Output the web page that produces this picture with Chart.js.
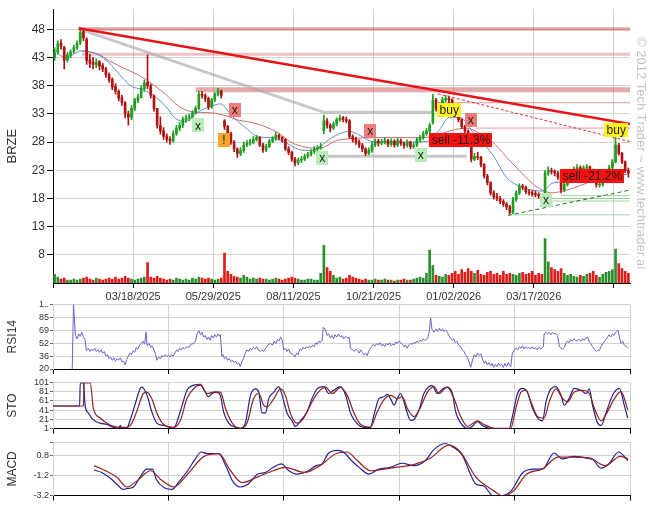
<!DOCTYPE html>
<html>
<head>
<meta charset="utf-8">
<script src="https://cdn.jsdelivr.net/npm/chart.js@4.4.0/dist/chart.umd.min.js"></script>
<style>
  body { margin: 0; background: #fff; width: 657px; height: 514px; overflow: hidden; position: relative; }
  canvas { position: absolute; left: 0; }
</style>
</head>
<body>
<canvas id="main" width="657" height="302" style="top:0px"></canvas>
<canvas id="rsi" width="657" height="78" style="top:298px"></canvas>
<canvas id="sto" width="657" height="60" style="top:376px"></canvas>
<canvas id="macd" width="657" height="68" style="top:436px"></canvas>
<script>
// ---- data (one bar = two sessions) ----
const ticker = 'BRZE';
const dateTicks = [0, 25, 50, 75, 100, 125, 150, 175];
const dateLabels = ['', '03/18/2025', '05/29/2025', '08/11/2025', '10/21/2025', '01/02/2026', '03/17/2026', ''];
const priceTicks = [8, 13, 18, 23, 28, 33, 38, 43, 48];

const opens = [
  43.0,44.0,45.6,44.8,42.6,43.4,44.1,44.8,45.6,47.6, 46.3,42.6,42.2,41.7,42.3,41.6,41.0,40.0,39.1,37.9,
  37.0,35.9,35.0,33.0,32.4,34.0,35.4,36.0,37.5,38.6, 38.0,36.2,34.0,31.0,30.0,29.0,28.5,28.2,29.5,30.5,
  31.0,32.0,32.3,32.5,33.2,34.0,36.5,36.3,35.8,34.3, 35.5,36.5,37.0,31.8,30.8,29.5,28.0,26.8,26.0,26.5,
  27.5,27.8,28.0,28.5,28.8,27.5,26.6,27.2,28.2,28.6, 29.2,28.8,28.5,26.8,26.2,25.0,24.3,24.8,25.0,25.5,
  25.8,26.3,26.8,27.0,30.0,31.8,31.0,30.5,31.2,32.0, 32.3,32.0,31.8,29.0,28.5,28.0,27.5,26.8,26.0,26.5,
  27.5,28.2,27.8,28.0,28.3,27.6,28.2,27.5,28.3,27.8, 27.4,28.0,27.2,27.5,28.4,28.8,29.5,30.0,31.5,35.5,
  34.0,34.5,35.5,35.8,35.5,34.5,33.0,32.0,30.8,30.0, 28.5,25.0,25.5,25.3,24.0,22.0,20.8,19.0,18.3,18.0,
  17.5,17.0,16.5,15.5,17.8,19.0,20.2,20.0,19.2,19.0, 18.8,18.7,18.5,18.5,22.5,23.0,22.8,22.5,21.8,19.5,
  20.5,21.5,22.5,23.2,23.5,23.0,23.4,23.6,23.0,21.5, 20.4,20.5,21.5,22.3,23.5,24.5,27.5,26.0,24.5,23.0
];
const highs = [
  44.8,46.0,46.2,45.0,43.9,44.4,45.2,46.0,48.2,48.0, 46.5,43.6,43.0,42.8,42.5,42.0,41.3,40.3,39.4,38.4,
  37.3,36.3,35.2,33.5,34.5,35.8,36.5,38.0,39.0,43.5, 38.3,36.4,34.0,32.5,30.6,29.5,29.0,30.0,31.0,31.5,
  32.5,32.8,33.0,33.6,34.4,37.0,37.0,36.6,36.0,35.8, 36.8,37.6,37.3,32.0,31.0,29.8,28.3,27.0,27.0,28.0,
  28.3,28.5,29.0,29.2,29.0,27.8,27.6,28.5,29.0,29.8, 29.5,29.0,28.6,27.2,26.4,25.3,25.2,25.5,25.9,26.2,
  26.7,27.2,27.4,27.8,32.8,32.2,31.3,31.6,32.3,32.8, 32.6,32.5,32.0,29.3,28.9,28.4,27.8,27.0,27.0,28.0,
  28.6,28.5,28.5,28.8,28.5,28.6,28.4,28.7,28.6,28.0, 28.4,28.2,27.9,28.8,29.2,29.9,30.4,31.4,36.5,35.8,
  35.0,36.0,36.3,36.2,35.7,34.7,33.3,32.2,31.0,30.2, 28.6,26.0,26.2,25.5,24.2,22.3,21.0,19.4,18.9,18.4,
  17.8,17.3,16.8,18.2,19.4,20.6,20.5,20.2,19.6,19.4, 19.3,19.0,18.8,23.0,23.6,23.4,23.1,22.8,22.0,20.9,
  21.9,22.9,23.6,24.0,23.8,23.8,24.0,23.8,23.2,21.8, 21.0,21.9,22.7,23.9,24.9,28.8,27.8,26.2,24.7,23.4
];
const lows = [
  42.5,43.6,44.5,41.0,42.2,43.0,43.8,44.4,45.3,46.0, 41.8,41.2,41.0,41.2,40.8,40.5,39.5,38.6,37.3,36.5,
  35.3,34.5,32.3,31.0,32.0,33.6,35.0,35.8,37.0,37.5, 35.8,33.5,30.5,29.4,28.5,28.0,27.6,28.0,29.2,30.0,
  30.6,31.5,31.8,32.2,33.0,33.8,35.8,35.2,33.8,34.0, 35.2,36.2,35.8,30.2,29.0,27.6,26.3,25.3,25.6,26.2,
  27.2,27.4,27.7,28.2,27.2,26.2,26.3,27.0,27.9,28.3, 28.4,28.0,26.5,25.8,24.6,23.8,24.0,24.4,24.7,25.2,
  25.5,26.0,26.5,26.7,29.5,30.5,29.8,30.2,30.9,31.7, 31.6,31.4,28.6,28.0,27.6,27.0,26.3,25.6,25.8,26.2,
  27.2,27.3,27.5,27.7,27.2,27.3,27.1,27.2,27.4,26.9, 27.1,26.8,26.9,27.2,28.1,28.5,29.2,29.7,31.2,33.5,
  33.6,34.2,35.2,35.0,34.0,32.6,31.6,30.4,29.6,28.0, 24.5,24.7,24.9,23.6,21.6,20.4,18.6,17.9,17.6,17.1,
  16.6,16.0,15.2,15.3,17.5,18.7,19.5,18.8,18.6,18.4, 18.3,18.0,17.8,18.3,22.1,22.3,22.0,21.4,19.0,19.2,
  20.2,21.2,22.2,22.9,22.7,22.7,23.1,22.7,21.2,20.0, 20.0,20.2,21.2,22.0,23.2,24.3,25.7,24.2,22.6,21.8
];
const closes = [
  44.0,45.5,45.0,42.5,43.5,44.0,44.8,45.5,47.5,46.5, 42.5,42.0,41.8,42.2,41.5,41.0,40.0,39.0,37.8,37.0,
  35.8,35.0,33.0,32.5,34.0,35.5,36.0,37.5,38.5,38.0, 36.3,34.0,31.0,30.0,29.0,28.5,28.2,29.5,30.5,31.0,
  32.0,32.3,32.5,33.2,34.0,36.5,36.3,35.8,34.3,35.5, 36.5,37.0,36.3,30.8,29.5,28.0,26.8,26.0,26.5,27.5,
  27.8,28.0,28.5,28.8,27.5,26.6,27.2,28.2,28.6,29.2, 28.8,28.5,26.8,26.2,25.0,24.3,24.8,25.0,25.5,25.8,
  26.3,26.8,27.0,27.2,31.8,31.0,30.5,31.2,32.0,32.3, 32.0,31.8,29.0,28.5,28.0,27.5,26.8,26.0,26.5,27.5,
  28.2,27.8,28.0,28.3,27.6,28.2,27.5,28.3,27.8,27.4, 28.0,27.2,27.5,28.4,28.8,29.5,30.0,31.0,35.5,34.0,
  34.5,35.5,35.8,35.5,34.5,33.0,32.0,30.8,30.0,28.5, 25.0,25.5,25.3,24.0,22.0,20.8,19.0,18.3,18.0,17.5,
  17.0,16.5,15.5,17.8,19.0,20.2,20.0,19.2,19.0,18.8, 18.7,18.5,18.3,22.5,23.0,22.8,22.5,21.8,19.5,20.5,
  21.5,22.5,23.2,23.5,23.0,23.4,23.6,23.0,21.5,20.5, 20.5,21.5,22.3,23.5,24.5,27.5,26.0,24.5,23.0,22.5
];
// volume, hundred-thousand shares
const volumes = [
  9,6,4,5,3,3,4,3,4,5,6, 4,3,5,4,3,4,5,4,6,4,5,7,5,4,3,4,5,6, 21,
  6,5,7,5,4,3,4,3,5,4,3,4,3,5,4,6,5,4,5,4,3,4,5, 31, 12,9,7,6,5,8,6,
  4,5,4,5,4,4,3,4,5,4,3,4,5,6,5,4,3,3,4,4,3,3,10, 39, 16,12,8,
  5,6,4,5,8,6,5,4,3,4,3,3,4,3,3,4,3,3,2,3,3,4,3,3,4,5,6,5, 10,34,18,
  8,7,6,9,8,10,12,9,14,11,15,12, 10,13,9,8,11,12,9,10,8,12,9,10,
  9,8,10,11,9,10,12,8,10,9, 46,22,16,14,12,15,
  10,8,9,7,6,8,7,9,10,12,8,6,9,11,12,14, 35,20,15,12,10
];

const maFast = [[0,44.7],[3.9,43.0],[8.9,44.2],[14.2,43.5],[17.3,42.2],[21.4,39.6],[24.5,37.9],[27.6,37.4],[30.8,36.5],
  [35.1,34.4],[38.2,32.2],[41.4,31.7],[45.4,33.4],[49.5,34.4],[52.3,34.8],[55.7,32.7],[60.2,30.5],[64.2,28.9],[68.3,28.8],
  [72.6,27.9],[76.7,26.7],[80.7,26.5],[83,27.1],[87,28.8],[92.3,29.9],[96.4,29.0],[99.5,28.1],[108,28.0],[116.4,28.1],
  [120.4,30.1],[123.6,32.4],[126.7,32.4],[132,29.0],[137,25.9],[141.4,21.8],[145.4,20.2],[149.5,19.5],[152.6,19.3],
  [155.7,20.7],[158.8,21.0],[162,21.9],[166.3,22.4],[172.6,22.8],[179.2,22.9]];
const maSlow = [[8.9,44.2],[14.2,43.6],[17.3,42.5],[22.6,41.0],[26.7,39.9],[30.8,38.4],[35.1,36.5],[39.2,34.4],[43.3,33.4],
  [49.5,33.2],[53.9,32.7],[57.9,31.9],[62,31.5],[66.4,30.7],[70.4,29.6],[74.5,27.9],[78.9,27.1],[83,26.9],[89.2,28.4],
  [103.9,28.8],[112,28.8],[118.3,29.0],[124.5,30.1],[128.9,30.5],[133,29.6],[137,28.1],[141.4,25.4],[145.4,23.0],
  [149.5,20.7],[152.6,19.5],[155.7,19.0],[158.8,19.3],[162,19.8],[166.3,20.7],[170.4,21.6],[174.5,22.1],[179.2,22.3]];

// trend lines and levels
const resistLine = [[8,48.2],[180,31.2]];
const resistDashed = [[120,36.6],[180,28.1]];
const grayChannel = [[8,48.1],[84.5,33.3],[118.3,33.3]];
const grayFloor = [[83,25.5],[129,25.5]];
const supportDashed = [[141.9,15.0],[180,19.5]];
const bandLevels = [48.1, 43.6, 37.3];
const bandStart = [8, 9, 44.5];
const thinLevels = [35.0, 30.5];
const thinStart = [120, 132];
const greenLevels = [18.5, 18.0, 17.55, 15.1];
const greenStart = [158.5, 152.6, 155.5, 141.9];

const signals = [
  {i:45.2, p:31.0, text:'x', kind:'ok'},
  {i:53.3, p:28.4, text:'!', kind:'warn'},
  {i:56.7, p:33.75, text:'x', kind:'bad'},
  {i:84, p:25.2, text:'x', kind:'ok'},
  {i:99, p:30.0, text:'x', kind:'bad'},
  {i:114.7, p:25.7, text:'x', kind:'ok'},
  {i:123.6, p:33.75, text:'buy', kind:'buy'},
  {i:130.3, p:32.0, text:'x', kind:'bad'},
  {i:127.3, p:28.4, text:'sell -11.3%', kind:'sell'},
  {i:153.8, p:17.8, text:'x', kind:'ok'},
  {i:168.3, p:22.0, text:'sell -21.2%', kind:'sell'},
  {i:175.7, p:30.15, text:'buy', kind:'buy'}
];

const rsi14 = [[6,20],[6.4,101],[7,62],[7.5,58],[8,64],[8.5,61],[9,66],[9.5,60],[10,57],[10.4,43],[11,46],[11.5,42],[12,45],
  [12.5,43],[13,46],[13.5,42],[14,44],[14.5,41],[15,44],[15.5,40],[16,42],[16.5,36],[17,38],[17.5,33],[18,35],[18.5,31],
  [19,34],[19.5,30],[20,33],[20.5,31],[21,34],[21.5,29],[22,30],[22.5,25],[23,32],[23.5,36],[24,40],[24.5,38],[25,43],
  [25.5,41],[26,47],[26.5,45],[27,50],[27.5,52],[28,55],[28.6,51],[29,66],[29.4,49],[30,52],[30.5,47],[31,49],[31.5,44],
  [32,38],[32.4,31],[33,35],[33.5,33],[34,37],[34.5,35],[35,38],[35.5,36],[36,37],[36.5,35],[37,38],[37.5,36],[38,40],
  [38.6,44],[39,42],[39.5,46],[40,44],[40.5,47],[41,45],[41.8,48],[42.5,47],[43,51],[43.9,52],[44.5,56],[45,65],[45.5,68],
  [46,63],[46.5,66],[47,60],[47.5,62],[48,57],[48.5,60],[49,56],[49.5,62],[50,59],[50.5,63],[51,60],[51.5,64],[52,61],
  [52.2,63],[52.7,36],[53,38],[53.5,33],[54,35],[54.5,31],[55,33],[55.5,29],[56,31],[56.5,28],[57,30],[57.5,26],[58,27],
  [58.4,23],[59,30],[59.5,34],[60,40],[60.5,44],[61,42],[61.5,46],[62,44],[62.5,47],[63,45],[63.6,48],[64,44],[64.7,42],
  [65.2,44],[65.7,42],[66.5,47],[67,50],[67.8,52],[68.5,50],[69,55],[69.5,52],[70,57],[70.5,55],[71,60],[71.5,56],[72,44],
  [72.5,46],[73,42],[73.5,45],[74,40],[75,38],[75.5,35],[76,40],[76.5,38],[77,45],[77.5,43],[78,47],[78.5,45],[79,48],
  [79.5,46],[80,49],[80.5,47],[81,50],[81.5,48],[82,53],[82.4,51],[83,55],[83.4,53],[84,56],[84.3,72],[85,70],[85.5,62],
  [86,64],[86.5,59],[87,62],[87.5,58],[88,63],[88.5,60],[89,64],[89.7,60],[90.2,62],[90.7,58],[91.3,61],[91.8,59],[92.4,60],
  [92.8,46],[93.5,44],[94,42],[94.5,45],[95,43],[95.5,40],[96,44],[96.5,41],[97,38],[97.5,40],[98,37],[98.5,42],[99,46],
  [99.5,48],[100,51],[100.5,49],[101,52],[101.5,50],[102,53],[102.5,49],[103,51],[103.5,48],[104,52],[104.5,50],[105,53],
  [105.5,49],[106,51],[106.4,50],[107,54],[107.4,52],[108,55],[108.4,53],[109,51],[109.5,48],[110,50],[110.5,46],[111,50],
  [111.5,52],[112,51],[112.6,53],[113,52],[113.5,55],[114,53],[114.5,56],[115,55],[115.5,58],[116,56],[116.8,58],[117.3,65],
  [117.8,84],[118.2,70],[118.9,66],[119.5,70],[120,67],[120.5,71],[121,68],[121.5,70],[122,67],[122.5,69],[123,66],
  [123.5,62],[124,59],[124.5,56],[125,58],[125.5,53],[126,55],[126.5,50],[127.2,48],[127.7,44],[128.2,42],[128.7,38],
  [129.2,35],[129.7,30],[130.3,22],[130.8,30],[131.4,38],[132,35],[132.5,40],[133,37],[133.5,39],[134,32],[134.5,27],
  [135,30],[135.5,25],[136,28],[136.6,24],[137,27],[137.5,22],[138,26],[138.5,23],[139,27],[139.5,24],[140,26],[140.5,22],
  [141,27],[141.5,23],[142,28],[142.5,24],[142.8,23],[143.3,40],[143.8,43],[144.3,46],[145,44],[145.5,48],[146,46],
  [146.5,49],[147,45],[147.5,48],[148,46],[148.5,47],[149,45],[149.5,48],[150,45],[150.5,47],[151,44],[151.5,47],
  [152.2,45],[153,48],[153.2,64],[153.7,66],[154.3,64],[154.8,66],[155.3,63],[155.8,66],[156.3,64],[156.8,65],[157.4,62],
  [158,48],[158.5,46],[159,45],[159.5,47],[160,52],[160.5,55],[161,53],[161.5,57],[162,55],[162.5,58],[163,56],[163.5,55],
  [164,57],[164.7,55],[165.2,58],[165.8,56],[166.3,59],[166.8,60],[167.3,54],[167.8,52],[168.3,48],[169,44],[169.5,42],
  [170,44],[170.4,43],[171,48],[171.5,52],[172,55],[172.5,57],[173,60],[173.5,63],[174,60],[174.5,64],[175,62],[175.5,66],
  [176.2,69],[176.7,60],[177.2,52],[177.7,55],[178.2,50],[178.7,49],[179.3,46]];

const stoK = [[0,50],[8.3,50],[8.5,100],[9.5,100],[10,52],[11,35],[12.6,20],[14.7,13],[16.8,10],[18.9,4],[20.5,2],[21,8],
  [21.5,2],[23,2],[24,18],[25.6,53],[27.2,88],[27.7,91],[29.3,74],[30.8,38],[32.4,13],[34.5,8],[36.6,4],[37.6,2],[39.7,38],
  [41.8,84],[43.9,95],[46,97],[47.5,80],[48.5,70],[49.6,77],[51,80],[52.2,73],[53.2,38],[54.8,13],[56.9,4],[58.4,2],[60,13],
  [61.6,73],[63.1,87],[64.2,80],[65.2,35],[66.3,35],[67.3,66],[68.9,80],[70.4,92],[71.5,73],[73,35],[74.6,18],[75.6,6],
  [77.2,18],[79.3,38],[80.8,66],[82.4,87],[84.5,92],[86,77],[87.6,84],[89.7,92],[91.3,73],[92.8,35],[95,11],[97,4],[99,4],
  [100.1,30],[101.7,66],[103.2,70],[104.3,75],[105.3,66],[106.4,52],[107.4,66],[108.4,77],[109.5,59],[110.5,35],[111.6,19],
  [112.6,21],[114.2,42],[115.7,77],[117.3,92],[118.3,94],[119.9,77],[121.5,87],[123,91],[124.6,77],[125.6,38],[127.2,13],
  [129.3,2],[130.8,6],[132.4,16],[134,8],[136,2],[138.7,1],[142.3,1],[143.3,27],[144.9,77],[146.5,88],[148,80],[149.6,45],
  [151.2,24],[152.7,18],[153.8,59],[155.3,87],[156.9,92],[158.5,73],[159.5,52],[161,66],[162.6,88],[164.7,84],[166.3,77],
  [167.3,87],[168.3,52],[169.9,13],[171,8],[172.5,35],[174.1,66],[175.1,80],[176.7,88],[178.2,52],[179.3,24]];
const stoD = [[0,50],[9.5,50],[9.7,100],[11.6,100],[12.6,45],[14.7,24],[16.8,13],[18.9,6],[21,4],[23,4],[24.6,13],[26.1,38],
  [28.2,77],[29.3,80],[30.8,66],[32.4,35],[34.5,10],[37.6,4],[39.7,18],[41.8,66],[44.4,91],[46,95],[48,77],[50.1,80],
  [52.2,80],[53.8,45],[55.9,13],[58.4,2],[60.5,13],[62.6,66],[64.2,77],[65.7,52],[66.8,48],[68.9,66],[71,87],[72.5,73],
  [74,35],[76.1,13],[78.2,24],[80.3,52],[82.4,77],[85,91],[87.1,77],[89.7,90],[91.8,73],[93.9,35],[96,10],[99,4],[101.2,38],
  [103.2,63],[105.3,73],[107.4,66],[109,70],[110.5,45],[112.6,27],[114.7,48],[116.8,80],[118.9,92],[120.4,77],[123,91],
  [125.1,66],[127.2,27],[129.3,6],[132.4,18],[134.5,10],[137.6,2],[142.8,2],[144.4,45],[146,80],[147.5,84],[149.1,59],
  [151.2,27],[153.2,24],[154.8,59],[156.9,87],[159,66],[160.5,59],[162.6,80],[165.2,84],[167.3,77],[168.9,45],[171,18],
  [173,38],[175.1,66],[177.2,81],[179.3,42]];

const macdLine = [[12.8,-0.66],[15.2,-0.9],[17.6,-1.4],[20,-2.1],[21.9,-2.6],[23,-2.5],[24.9,-2.4],[27.4,-1.23],[29.2,-0.56],
  [31,-0.56],[32.2,-1.57],[34.7,-2.42],[37.1,-2.59],[39.5,-1.74],[42,-0.73],[44.4,0.46],[46.2,1.14],[48.1,0.97],[51.7,0.97],
  [54.1,-0.39],[56,-1.74],[58.4,-2.35],[60.8,-2.08],[63.9,-1.06],[66.3,-0.9],[68.7,-0.39],[71.2,-0.05],[73.6,-0.73],
  [76,-1.06],[79.7,-0.73],[82.1,-0.22],[83.9,-0.05],[85.8,0.97],[88.8,1.31],[90.6,1.14],[93.1,0.29],[95.5,-0.39],
  [98.5,-1.06],[101.6,-0.56],[105.2,-0.39],[108.9,0.02],[112.5,-0.22],[116.2,0.29],[118.6,1.31],[122.3,1.99],[124.7,1.65],
  [127.7,0.8],[130.2,-1.06],[132,-2.08],[134.4,-2.25],[136.9,-3.2],[138.5,-3.4],[140.2,-3.25],[142.9,-2.76],[146.6,-0.9],
  [150.2,-0.56],[152.7,-0.56],[156.3,1.04],[158.8,0.46],[162.4,0.7],[166.1,0.56],[168.5,0.36],[170.9,-0.46],[173.4,-0.05],
  [176.4,1.14],[179.4,0.29]];
const macdSignal = [[12.8,-0.22],[16.4,-0.73],[20,-1.4],[23.1,-2.35],[26.2,-1.74],[30.4,-0.73],[33.5,-1.57],[37.7,-2.35],
  [42,-1.06],[46.8,0.63],[51.7,0.97],[55.4,-0.73],[59,-1.91],[63.9,-1.34],[68.7,-0.73],[72.4,-0.39],[78.5,-0.9],[83.3,-0.22],
  [88.2,0.97],[91.8,1.14],[94.9,0.29],[99.1,-0.73],[105.2,-0.46],[112.5,-0.12],[117.4,0.46],[123.5,1.82],[127.1,1.14],
  [132,-1.4],[136.9,-2.59],[140.5,-3.27],[143.6,-2.76],[147.8,-1.06],[152.7,-0.56],[157.5,0.63],[162.4,0.63],[167.3,0.56],
  [172.2,-0.22],[177,0.7],[179.4,0.46]];

const panelTicks = [0, 36, 72, 108, 144, 180];
const rsiTicks = [20, 36.2, 52.4, 68.6, 84.8, 101];
const rsiLabels = ['20', '36', '52', '69', '85', '1..'];
const stoTicks = [1, 21, 41, 61, 81, 101];
const macdTicks = [-3.2, -1.2, 0.8, 2.1];
const macdLabels = ['-3.2', '-1.2', '0.8', ''];

// ---- styles ----
Chart.defaults.font.family = '"Liberation Sans", Arial, Helvetica, sans-serif';
Chart.defaults.color = '#333';
const GRID = '#d2d2d2';
const UP = '#1e9e1e', DOWN = '#b01212';
const VOL_UP = '#2f8f2f', VOL_DOWN = '#e01c1c';
const SIGNAL_BG = { ok: '#b9ecb9', bad: '#f07b7b', warn: '#f5a528', buy: '#fff21e', sell: '#ff1010' };

const isUp = opens.map((o, i) => closes[i] >= o);
const xs = opens.map((o, i) => i + 0.5);

function flatLine(level, start, color, width, order) {
  return { type: 'line', data: [[start, level], [180, level]], borderColor: color, borderWidth: width,
    pointRadius: 0, order: order };
}
function polyLine(points, color, width, order, dash) {
  return { type: 'line', data: points, borderColor: color, borderWidth: width, pointRadius: 0,
    borderDash: dash || [], order: order };
}

const mainSets = [
  { type: 'bar', data: xs.map((x, i) => ({ x: x, y: volumes[i] })), yAxisID: 'yv', barThickness: 2, grouped: false,
    backgroundColor: isUp.map(u => u ? VOL_UP : VOL_DOWN), order: 20 },
  flatLine(bandLevels[0], bandStart[0], 'rgba(205,85,85,0.55)', 3.5, 15),
  flatLine(bandLevels[1], bandStart[1], 'rgba(215,120,120,0.45)', 3, 15),
  flatLine(bandLevels[2], bandStart[2], 'rgba(205,85,85,0.5)', 5, 15),
  flatLine(thinLevels[0], thinStart[0], 'rgba(205,80,80,0.6)', 1, 15),
  flatLine(thinLevels[1], thinStart[1], 'rgba(205,80,80,0.6)', 1, 15),
  ...greenLevels.map((v, k) => flatLine(v, greenStart[k], 'rgba(120,200,120,0.7)', 1, 15)),
  polyLine(grayChannel, 'rgba(170,170,170,0.65)', 3, 14),
  polyLine(grayFloor, 'rgba(170,170,170,0.65)', 3, 14),
  { type: 'line', data: maSlow, borderColor: '#cf6b6b', borderWidth: 1, pointRadius: 0, tension: 0.4,
    cubicInterpolationMode: 'monotone', order: 8 },
  { type: 'line', data: maFast, borderColor: '#5a8fcc', borderWidth: 1, pointRadius: 0, tension: 0.4,
    cubicInterpolationMode: 'monotone', order: 7 },
  { type: 'bar', data: xs.map((x, i) => ({ x: x, y: [lows[i], highs[i]] })), barThickness: 1, grouped: false,
    backgroundColor: isUp.map(u => u ? UP : DOWN), order: 5 },
  { type: 'bar', data: xs.map((x, i) => ({ x: x, y: [opens[i], closes[i]] })), barThickness: 2, grouped: false,
    minBarLength: 1, backgroundColor: isUp.map(u => u ? UP : DOWN), order: 4 },
  polyLine(resistDashed, '#e43030', 1, 3, [3, 2]),
  polyLine(supportDashed, '#2c6a2c', 1, 3, [4, 3]),
  polyLine(resistLine, '#e8141a', 2.5, 2)
];

const signalPlugin = {
  id: 'signals',
  afterDatasetsDraw(chart) {
    const { ctx } = chart;
    const x = chart.scales.x, y = chart.scales.y;
    ctx.save();
    ctx.font = '12px "Liberation Sans", Arial, sans-serif';
    ctx.textAlign = 'center';
    ctx.textBaseline = 'middle';
    signals.forEach(s => {
      const px = x.getPixelForValue(s.i), py = y.getPixelForValue(s.p);
      const w = Math.max(12, ctx.measureText(s.text).width + 5), h = 14;
      ctx.fillStyle = SIGNAL_BG[s.kind];
      ctx.fillRect(Math.round(px - w / 2), Math.round(py - h / 2), Math.round(w), h);
      ctx.fillStyle = '#1b1b1b';
      ctx.fillText(s.text, px, py + 1);
    });
    ctx.restore();
  }
};

const watermark = {
  id: 'watermark',
  afterDraw(chart) {
    const ctx = chart.ctx;
    ctx.save();
    ctx.translate(641, 37);
    ctx.rotate(Math.PI / 2);
    ctx.font = '13px "Liberation Sans", Arial, sans-serif';
    ctx.fillStyle = '#c4c4c4';
    ctx.textBaseline = 'middle';
    ctx.fillText('\u00a9 2012 Tech Trader ~ www.techtrader.ai', 0, 0);
    ctx.restore();
  }
};

new Chart(document.getElementById('main'), {
  type: 'bar',
  data: { datasets: mainSets },
  options: {
    responsive: false, animation: false, devicePixelRatio: 1, events: [],
    layout: { padding: { left: 0, right: 27, top: 0, bottom: 0 } },
    plugins: { legend: { display: false }, tooltip: { enabled: false } },
    scales: {
      x: {
        type: 'linear', min: 0, max: 180, offset: false,
        afterBuildTicks: s => { s.ticks = dateTicks.map(v => ({ value: v })); },
        ticks: { autoSkip: false, maxRotation: 0, font: { size: 11 }, color: '#333', padding: 2,
          callback: (v, i) => dateLabels[i] },
        grid: { color: GRID, offset: false, tickColor: '#000', tickLength: 5 },
        border: { color: '#000' },
        afterFit: s => { s.height = 19; }
      },
      y: {
        min: 3, max: 51.6,
        afterBuildTicks: s => { s.ticks = priceTicks.map(v => ({ value: v })); },
        ticks: { autoSkip: false, font: { size: 12 }, color: '#333', padding: 2 },
        grid: { color: GRID, tickColor: '#000', tickLength: 6 },
        border: { color: '#000' },
        title: { display: true, text: ticker, font: { size: 13 }, color: '#333', padding: { top: 5, bottom: 0 } },
        afterFit: s => { s.width = 53; }
      },
      yv: { display: false, min: 0, max: 283 }
    }
  },
  plugins: [signalPlugin, watermark]
});

function panel(id, title, yMin, yMax, yTicks, yLabels, datasets, padTop, axisH) {
  return new Chart(document.getElementById(id), {
    type: 'line',
    data: { datasets: datasets },
    options: {
      responsive: false, animation: false, devicePixelRatio: 1, events: [],
      layout: { padding: { left: 0, right: 27, top: padTop, bottom: 0 } },
      plugins: { legend: { display: false }, tooltip: { enabled: false } },
      elements: { point: { radius: 0 } },
      scales: {
        x: {
          type: 'linear', min: 0, max: 180,
          afterBuildTicks: s => { s.ticks = panelTicks.map(v => ({ value: v })); },
          ticks: { autoSkip: false, callback: () => '', font: { size: 1 }, padding: 0 },
          grid: { color: GRID, tickColor: '#000', tickLength: 5 },
          border: { color: '#000' },
          afterFit: s => { s.height = axisH; }
        },
        y: {
          min: yMin, max: yMax,
          afterBuildTicks: s => { s.ticks = yTicks.map(v => ({ value: v })); },
          ticks: { autoSkip: false, font: { size: 9 }, color: '#333', padding: 1, callback: (v, i) => yLabels[i] },
          grid: { color: GRID, tickColor: '#666', tickLength: 3 },
          border: { color: GRID },
          title: { display: true, text: title, font: { size: 12 }, color: '#333', padding: { top: 5, bottom: 0 } },
          afterFit: s => { s.width = 53; }
        }
      }
    }
  });
}

panel('rsi', 'RSI14', 20, 101, rsiTicks, rsiLabels, [
  { data: rsi14, borderColor: '#6c5fc9', borderWidth: 1, pointRadius: 0 }
], 5, 7);

panel('sto', 'STO', 1, 101, stoTicks, stoTicks.map(String), [
  { data: stoD, borderColor: '#8e2020', borderWidth: 1.2, pointRadius: 0, cubicInterpolationMode: 'monotone' },
  { data: stoK, borderColor: '#22228e', borderWidth: 1.2, pointRadius: 0, cubicInterpolationMode: 'monotone' }
], 5.3, 7.3);

panel('macd', 'MACD', -3.2, 2.1, macdTicks, macdLabels, [
  { data: macdSignal, borderColor: '#982020', borderWidth: 1.2, pointRadius: 0, cubicInterpolationMode: 'monotone' },
  { data: macdLine, borderColor: '#202098', borderWidth: 1.2, pointRadius: 0, cubicInterpolationMode: 'monotone' }
], 5, 8.5);
</script>
</body>
</html>
